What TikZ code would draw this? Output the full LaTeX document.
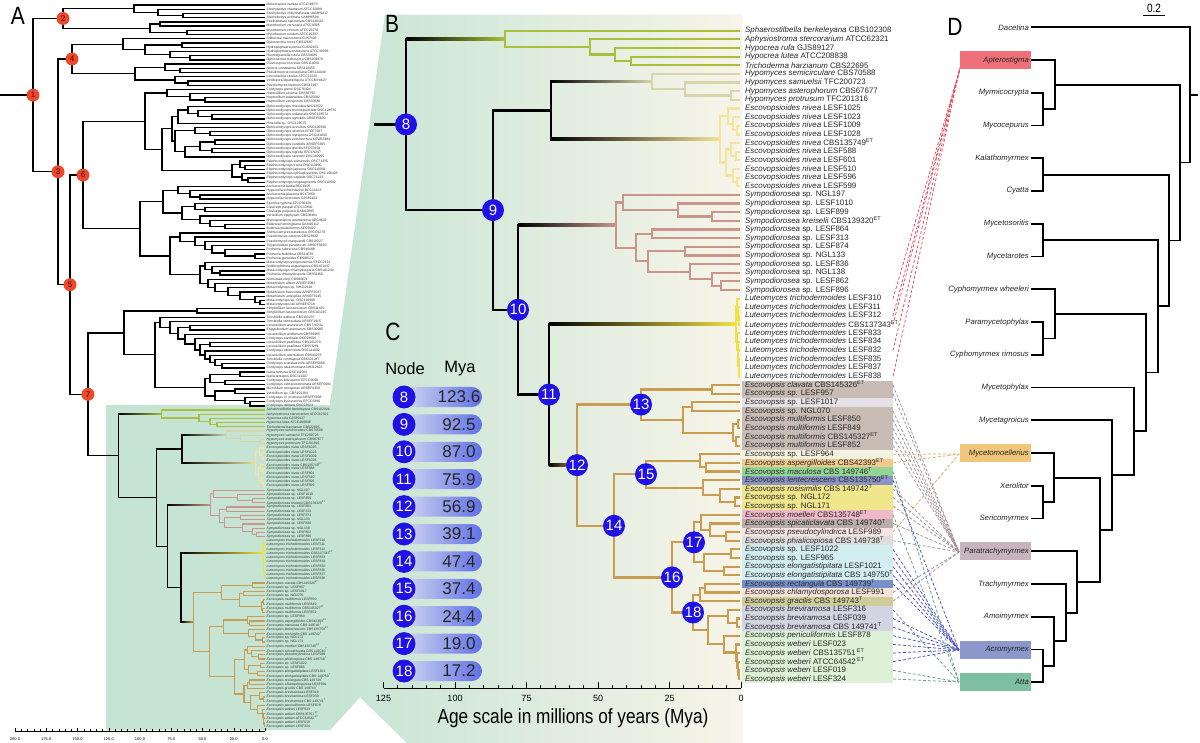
\documentclass[tikz,border=0pt]{standalone}
\usepackage{fontspec}
\setmainfont{Liberation Sans}
\newfontfamily\condfont[FakeStretch=0.84]{Liberation Sans}
\usetikzlibrary{calc}
\definecolor{Gclade}{RGB}{168,192,60}
\definecolor{Hclade}{RGB}{214,213,172}
\definecolor{Eclade}{RGB}{244,228,158}
\definecolor{Sclade}{RGB}{202,150,140}
\definecolor{Lclade}{RGB}{240,226,70}
\definecolor{Cclade}{RGB}{200,157,82}
\definecolor{nblue}{RGB}{32,18,228}
\definecolor{nred}{RGB}{236,72,44}
\definecolor{Amint}{RGB}{197,228,212}
\definecolor{Bmid}{RGB}{230,236,225}
\definecolor{Bright}{RGB}{247,244,232}
\definecolor{bTaupe}{RGB}{200,188,180}
\definecolor{bGray}{RGB}{228,226,232}
\definecolor{bCream}{RGB}{243,241,226}
\definecolor{bPeach}{RGB}{243,202,142}
\definecolor{bGreen}{RGB}{146,214,148}
\definecolor{bSlate}{RGB}{140,148,196}
\definecolor{bYellow}{RGB}{240,230,140}
\definecolor{bPink}{RGB}{240,184,200}
\definecolor{bTaupe2}{RGB}{186,174,168}
\definecolor{bRose}{RGB}{247,228,224}
\definecolor{bLgray}{RGB}{222,222,222}
\definecolor{bCyan}{RGB}{210,238,240}
\definecolor{bBlue}{RGB}{122,144,200}
\definecolor{bPeach2}{RGB}{244,226,216}
\definecolor{bKhaki}{RGB}{206,205,154}
\definecolor{bLav}{RGB}{210,212,226}
\definecolor{bLgreen}{RGB}{222,241,214}
\definecolor{Dapt}{RGB}{240,112,122}
\definecolor{Dmoe}{RGB}{242,198,122}
\definecolor{Dptr}{RGB}{200,180,188}
\definecolor{Dacr}{RGB}{140,152,204}
\definecolor{Datt}{RGB}{124,192,160}
\definecolor{pillL}{RGB}{226,230,240}
\definecolor{pillR}{RGB}{96,112,230}
\definecolor{lnRed}{RGB}{226,80,96}
\definecolor{lnOra}{RGB}{214,168,104}
\definecolor{lnMau}{RGB}{168,144,152}
\definecolor{lnBlu}{RGB}{80,80,208}
\definecolor{lnGre}{RGB}{96,160,128}
\newcommand\ET{\textsuperscript{ET}}
\newcommand\Ts{\textsuperscript{T}}
\newcommand\tipc[3]{%
  \coordinate (#1) at (#2,#3);%
  \expandafter\xdef\csname TX-#1\endcsname{#2}%
  \expandafter\xdef\csname TY-#1\endcsname{#3}}
\newcommand\ndc[4]{%
  \pgfmathsetmacro\ndtmp{(\csname TY-#3\endcsname+\csname TY-#4\endcsname)/2}%
  \expandafter\xdef\csname TX-#1\endcsname{#2}%
  \expandafter\xdef\csname TY-#1\endcsname{\ndtmp}%
  \coordinate (#1) at (#2,\ndtmp);}
\newcommand\nd[5][]{\ndc{#2}{#3}{#4}{#5}\draw[#1] (#2) |- (#4);\draw[#1] (#2) |- (#5);}
\newcommand\gst[3]{%
  \pgfmathsetmacro\gpx{\csname TX-#1\endcsname}%
  \pgfmathsetmacro\gpy{\csname TY-#1\endcsname}%
  \pgfmathsetmacro\gcx{\csname TX-#2\endcsname}%
  \pgfmathsetmacro\gcy{\csname TY-#2\endcsname}%
  \draw[bbl,line cap=rect] (\gpx,\gpy) -- (\gpx,\gcy);%
  \shade[left color=black,middle color=#3,right color=#3] (\gpx,\gcy-\ghw) rectangle (\gcx,\gcy+\ghw);}
\newcommand\lbox[3]{%
  \pgfmathsetmacro\lya{30.7+(#1-1)*8.644-4.32}%
  \pgfmathsetmacro\lyb{30.7+(#2-1)*8.644+4.32}%
  \fill[#3] (742,\lya) rectangle (893,\lyb);}
\newcommand\Btree[1]{%
\foreach \ii in {1,...,76}{\pgfmathsetmacro\yy{30.7+(\ii-1)*8.644}\tipc{#1t\ii}{740}{\yy}}%
\nd[cG]{#1g4}{631}{#1t4}{#1t5}%
\nd[cG]{#1g3}{615}{#1t3}{#1g4}%
\nd[cG]{#1g2}{590}{#1t2}{#1g3}%
\nd[cG]{#1g1}{505}{#1t1}{#1g2}%
\nd[cH]{#1h3}{731}{#1t8}{#1t9}%
\nd[cH]{#1h2}{685}{#1t7}{#1h3}%
\nd[cH]{#1h1}{652}{#1t6}{#1h2}%
\nd[cE]{#1e4}{737}{#1t12}{#1t13}%
\nd[cE]{#1e3}{733}{#1t11}{#1e4}%
\nd[cE]{#1e2}{728}{#1t10}{#1e3}%
\nd[cE]{#1e7}{736}{#1t15}{#1t16}%
\nd[cE]{#1e6}{731}{#1t14}{#1e7}%
\nd[cE]{#1e9}{737}{#1t18}{#1t19}%
\nd[cE]{#1e8}{733}{#1t17}{#1e9}%
\nd[cE]{#1e5}{726}{#1e6}{#1e8}%
\nd[cE]{#1e1}{720}{#1e2}{#1e5}%
\ndc{#1hE}{551}{#1h1}{#1e1}%
\gst{#1hE}{#1h1}{Hclade}%
\gst{#1hE}{#1e1}{Eclade}%
\nd[cS]{#1s3}{712}{#1t22}{#1t23}%
\nd[cS]{#1s2}{678}{#1t21}{#1s3}%
\nd[cS]{#1s1}{623}{#1t20}{#1s2}%
\nd[cS]{#1s5}{652}{#1t24}{#1t25}%
\nd[cS]{#1s7}{685}{#1t26}{#1t27}%
\nd[cS]{#1s10}{721}{#1t30}{#1t31}%
\nd[cS]{#1s9}{712}{#1t29}{#1s10}%
\nd[cS]{#1s8}{690}{#1t28}{#1s9}%
\nd[cS]{#1s6}{648}{#1s7}{#1s8}%
\nd[cS]{#1s4}{636}{#1s5}{#1s6}%
\nd[cS]{#1sR}{616}{#1s1}{#1s4}%
\nd[cL]{#1l3}{739}{#1t34}{#1t35}%
\nd[cL]{#1l2}{738}{#1t33}{#1l3}%
\nd[cL]{#1l1}{737}{#1t32}{#1l2}%
\nd[cL]{#1l9}{739}{#1t40}{#1t41}%
\nd[cL]{#1l8}{739}{#1t39}{#1l9}%
\nd[cL]{#1l7}{738}{#1t38}{#1l8}%
\nd[cL]{#1l6}{738}{#1t37}{#1l7}%
\nd[cL]{#1l5}{737}{#1t36}{#1l6}%
\nd[cL]{#1lR}{736}{#1l1}{#1l5}%
\nd[cC]{#1c1}{712}{#1t42}{#1t43}%
\nd[cC]{#1c3}{692}{#1t44}{#1t45}%
\nd[cC]{#1c5}{738}{#1t46}{#1t47}%
\nd[cC]{#1c6}{736}{#1t48}{#1t49}%
\nd[cC]{#1c4}{733}{#1c5}{#1c6}%
\nd[cC]{#1c2}{683}{#1c3}{#1c4}%
\nd[cC]{#1n13}{641}{#1c1}{#1c2}%
\nd[cC]{#1c8}{706}{#1t51}{#1t52}%
\nd[cC]{#1c7}{700}{#1t50}{#1c8}%
\nd[cC]{#1c11}{735}{#1t55}{#1t56}%
\nd[cC]{#1c10}{720}{#1t54}{#1c11}%
\nd[cC]{#1c9}{703}{#1t53}{#1c10}%
\nd[cC]{#1n15}{646}{#1c7}{#1c9}%
\nd[cC]{#1c14}{726}{#1t59}{#1t60}%
\nd[cC]{#1c13}{710}{#1t58}{#1c14}%
\nd[cC]{#1c12}{701}{#1t57}{#1c13}%
\nd[cC]{#1c16}{731}{#1t61}{#1t62}%
\nd[cC]{#1c17}{724}{#1t63}{#1t64}%
\nd[cC]{#1c15}{704}{#1c16}{#1c17}%
\nd[cC]{#1n17}{694}{#1c12}{#1c15}%
\nd[cC]{#1c19}{705}{#1t65}{#1t66}%
\nd[cC]{#1c18}{700}{#1c19}{#1t67}%
\nd[cC]{#1c22}{737}{#1t69}{#1t70}%
\nd[cC]{#1c21}{728}{#1t68}{#1c22}%
\nd[cC]{#1c27}{739}{#1t75}{#1t76}%
\nd[cC]{#1c26}{738}{#1t74}{#1c27}%
\nd[cC]{#1c25}{737}{#1t73}{#1c26}%
\nd[cC]{#1c24}{736}{#1t72}{#1c25}%
\nd[cC]{#1c23}{724}{#1t71}{#1c24}%
\nd[cC]{#1c20}{708}{#1c21}{#1c23}%
\nd[cC]{#1n18}{693}{#1c18}{#1c20}%
\nd[cC]{#1n16}{672}{#1n17}{#1n18}%
\nd[cC]{#1n14}{614}{#1n15}{#1n16}%
\nd[cC]{#1n12}{577}{#1n13}{#1n14}%
\ndc{#1n11}{549}{#1lR}{#1n12}%
\gst{#1n11}{#1lR}{Lclade}%
\gst{#1n11}{#1n12}{Cclade}%
\ndc{#1n10}{518}{#1sR}{#1n11}%
\gst{#1n10}{#1sR}{Sclade}%
\draw[bbl] (#1n10) |- (#1n11);%
\ndc{#1n9}{493}{#1hE}{#1n10}%
\draw[bbl] (#1n9) |- (#1hE);\draw[bbl] (#1n9) |- (#1n10);%
\ndc{#1n8}{406}{#1g1}{#1n9}%
\gst{#1n8}{#1g1}{Gclade}%
\draw[bbl] (#1n8) |- (#1n9);}
\def\Blist{{Sphaerostilbella berkeleyana}/{CBS102308},{Aphysiostroma stercorarium}/{ATCC62321},{Hypocrea rufa}/{GJS89127},{Hypocrea lutea}/{ATCC208838},{Trichoderma harzianum}/{CBS22695},{Hypomyces semicirculare}/{CBS70588},{Hypomyces samuelsii}/{TFC200723},{Hypomyces asterophorum}/{CBS67677},{Hypomyces protrusum}/{TFC201316},{Escovopsioides nivea}/{LESF1025},{Escovopsioides nivea}/{LESF1023},{Escovopsioides nivea}/{LESF1009},{Escovopsioides nivea}/{LESF1028},{Escovopsioides nivea}/{CBS135749\ET},{Escovopsioides nivea}/{LESF588},{Escovopsioides nivea}/{LESF601},{Escovopsioides nivea}/{LESF510},{Escovopsioides nivea}/{LESF596},{Escovopsioides nivea}/{LESF599},{Sympodiorosea}/{sp. NGL197},{Sympodiorosea}/{sp. LESF1010},{Sympodiorosea}/{sp. LESF899},{Sympodiorosea kreiselii}/{CBS139320\ET},{Sympodiorosea}/{sp. LESF864},{Sympodiorosea}/{sp. LESF313},{Sympodiorosea}/{sp. LESF874},{Sympodiorosea}/{sp. NGL133},{Sympodiorosea}/{sp. LESF836},{Sympodiorosea}/{sp. NGL138},{Sympodiorosea}/{sp. LESF862},{Sympodiorosea}/{sp. LESF896},{Luteomyces trichodermoides}/{LESF310},{Luteomyces trichodermoides}/{LESF311},{Luteomyces trichodermoides}/{LESF312},{Luteomyces trichodermoides}/{CBS137343\ET},{Luteomyces trichodermoides}/{LESF833},{Luteomyces trichodermoides}/{LESF834},{Luteomyces trichodermoides}/{LESF832},{Luteomyces trichodermoides}/{LESF835},{Luteomyces trichodermoides}/{LESF837},{Luteomyces trichodermoides}/{LESF838},{Escovopsis clavata}/{CBS145326\ET},{Escovopsis}/{sp. LESF957},{Escovopsis}/{sp. LESF1017},{Escovopsis}/{sp. NGL070},{Escovopsis multiformis}/{LESF850},{Escovopsis multiformis}/{LESF849},{Escovopsis multiformis}/{CBS145327\ET},{Escovopsis multiformis}/{LESF852},{Escovopsis}/{sp. LESF964},{Escovopsis aspergilloides}/{CBS42393\ET},{Escovopsis maculosa}/{CBS 149746\Ts},{Escovopsis lentecrescens}/{CBS135750\ET},{Escovopsis rosisimilis}/{CBS 149742\Ts},{Escovopsis}/{sp. NGL172},{Escovopsis}/{sp. NGL171},{Escovopsis moelleri}/{CBS135748\ET},{Escovopsis spicaticlavata}/{CBS 149740\Ts},{Escovopsis pseudocylindrica}/{LESF989},{Escovopsis phialicopiosa}/{CBS 149738\Ts},{Escovopsis}/{sp. LESF1022},{Escovopsis}/{sp. LESF965},{Escovopsis elongatistipitata}/{LESF1021},{Escovopsis elongatistipitata}/{CBS 149750\Ts},{Escovopsis rectangula}/{CBS 149739\Ts},{Escovopsis chlamydosporosa}/{LESF991},{Escovopsis gracilis}/{CBS 149743\Ts},{Escovopsis breviramosa}/{LESF316},{Escovopsis breviramosa}/{LESF039},{Escovopsis breviramosa}/{CBS 149741\Ts},{Escovopsis peniculiformis}/{LESF878},{Escovopsis weberi}/{LESF023},{Escovopsis weberi}/{CBS135751\,\ET},{Escovopsis weberi}/{ATCC64542\,\ET},{Escovopsis weberi}/{LESF019},{Escovopsis weberi}/{LESF324}}
\def\Alist{Melanospora zamiae ATCC18873,Stachybotrys chartarum ATCC32888,Stachybotrys chlorohalonata UAMH6417,Stachybotrys echinata UAMH6594,Peethambara spirostriata CBS110115,Myrothecium verrucaria ATCC9095,Myrothecium cinctum ATCC22270,Myrothecium roridum ATCC16297,Stilbocrea macrostoma GJS7326,Ophionectria cerea CBS12687,Hydropisphaera peziza GJS92101,Hydropisphaera erubescens ATCC36093,Roumegueriella rufula CBS34685,Ophionectria trichospora CBS109876,Cosmospora coccinea CBS114050,Nectria cinnabarina CBS114055,Pseudonectria rousseliana CBS114049,Leuconectria clusiae ATCC22228,Viridispora diparietispora ATCCMYA627,Paecilomyces lilacinus CBS43187,Cordyceps gunnii OSC76404,Haptocillium sinense CBS56795,Haptocillium balanoides CBS25082,Haptocillium zeosporum CBS33580,Ophiocordyceps rhizoidea NHJ12522,Ophiocordyceps brunneipunctata OSC128576,Ophiocordyceps unilateralis OSC128574,Ophiocordyceps agriotidis ARSEF5692,Hirsutella sp. OSC128575,Ophiocordyceps acicularis OSC128580,Ophiocordyceps sinensis EFCC7287,Ophiocordyceps stylophora OSC111000,Ophiocordyceps entomorrhiza KEW53484,Ophiocordyceps variabilis ARSEF5365,Ophiocordyceps gracilis EFCC3101,Ophiocordyceps nigrella EFCC9247,Ophiocordyceps ravenelii OSC110995,Elaphocordyceps subsessilis OSC71235,Elaphocordyceps fracta OSC110990,Elaphocordyceps japonica OSC110991,Elaphocordyceps ophioglossoides OSC106405,Elaphocordyceps capitata OSC71233,Elaphocordyceps longisegmentis OSC110992,Aschersonia badia BCC8105,Hypocrella schizostachyi BCC14123,Aschersonia placenta BCC7869,Hypocrella nectrioides GJS89104,Epichloe typhina ATCC56429,Claviceps paspali ATCC13892,Claviceps purpurea GAM12885,Verticillium epiphytum CBS38481,Myriogenospora atramentosa AEG9632,Balansia henningsiana GAM16112,Balansia pilulaeformis AEG9420,Shimizuomyces paradoxus EFCC6279,Paecilomyces carneus CBS23932,Paecilomyces marquandii CBS18227,Tolypocladium parasiticum ARSEF3436,Pochonia rubescens CBS46488,Pochonia bulbillosa CBS14570,Pochonia gonioides CBS89172,Metacordyceps yongmunensis EFCC2131,Rotiferophthora angustispora CBS101437,Metacordyceps chlamydosporia CBS101244,Pochonia chlamydosporia CBS50466,Nomuraea rileyi CBS80671,Metarhizium album ARSEF2082,Metacordyceps sp. NHJ12118,Metarhizium flavoviride ARSEF2037,Metarhizium anisopliae ARSEF3145,Metacordyceps sp. OSC110996,Metacordyceps taii ARSEF5714,Simplicillium lanosoniveum CBS11425,Simplicillium lanosoniveum CBS101267,Torrubiella wallacei CBS101237,Torrubiella ratticaudata ARSEF1915,Lecanicillium aranearum CBS72673a,Engyodontium aranearum CBS30985,Lecanicillium antillanum CBS35085,Cordyceps cardinalis OSC93609,Lecanicillium psalliotae CBS101270,Lecanicillium psalliotae CBS53281,Cordyceps tuberculata OSC111002,Lecanicillium attenuatum CBS40278,Torrubiella confragosa CBS101247,Cordyceps scarabaeicola ARSEF5689,Cordyceps takaomontana NHJ12623,Isaria farinosa OSC111004,Isaria tenuipes OSC111007,Cordyceps bifusispora EFCC5690,Cordyceps ochraceostromata ARSEF5691,Microhilum oncoperae ARSEF4358,Verticillium sp. CBS101284,Cordyceps cf. pruinosa ARSEF5608,Cordyceps kyusyuensis EFCC5886,Cordyceps militaris OSC93623}
\tikzset{
 bbl/.style={line width=2.6pt,black},
 cl/.style={line width=2.2pt},
 cG/.style={cl,draw=Gclade}, cH/.style={cl,draw=Hclade}, cE/.style={cl,draw=Eclade},
 cS/.style={cl,draw=Sclade}, cL/.style={cl,draw=Lclade}, cC/.style={cl,draw=Cclade},
 al/.style={line width=1.3pt,black},
 dl/.style={line width=1.8pt,black},
 bnode/.style={circle,fill=nblue,text=white,inner sep=0pt,minimum size=22pt,font=\fontsize{15}{15}\selectfont},
 anode/.style={circle,fill=nred,text=black!70!red,inner sep=0pt,minimum size=13pt,font=\fontsize{8}{8}\selectfont},
 blab/.style={anchor=west,inner sep=1pt,font=\fontsize{7.9}{8.6}\selectfont,text=black!85},
 alab/.style={anchor=west,inner sep=0.5pt,font=\fontsize{3.4}{4}\selectfont,text=black!80},
 dlab/.style={anchor=east,inner xsep=2pt,inner ysep=0pt,minimum height=18pt,font=\fontsize{7.7}{8}\selectfont\itshape,text=black!85},
 dbox/.style={dlab,text width=67pt,align=right},
 pill/.style={minimum width=90pt,minimum height=20pt,rounded corners=10pt,left color=pillL,right color=pillR,inner sep=0pt},
 panel/.style={font=\condfont\fontsize{25}{25}\selectfont,inner sep=0pt},
 dsh/.style={dash pattern=on 3pt off 2pt,line width=0.75pt},
}
\begin{document}
\begin{tikzpicture}[x=1pt,y=-1pt]
\useasboundingbox (0,0) rectangle (1200,743);
\fill[white] (0,0) rectangle (1200,743);
\def\ghw{1.3}
% ---------- background shading ----------
\fill[Amint] (106,405) -- (330,405) -- (385,15) -- (742,15) -- (742,743) -- (407,743) -- (360,697) -- (330,730) -- (106,730) -- cycle;
\begin{scope}
 \clip (330,405) -- (385,15) -- (742,15) -- (742,743) -- (407,743) -- (360,697) -- (330,730) -- cycle;
 \shade[left color=Amint,middle color=Bmid,right color=Bright] (330,10) rectangle (742,743);
\end{scope}
% ---------- panel A : green part (scaled copy of B) ----------
\begin{scope}[shift={(-58.8,395)},xscale=0.437,yscale=0.4882,bbl/.style={line width=1.4pt,black},cl/.style={line width=1.2pt}]
 \def\ghw{1.43}
 \Btree{A}
\end{scope}
% ---------- panel A : upper tree ----------
\foreach \ii in {1,...,96}{\pgfmathsetmacro\yy{5+(\ii-1)*4.22}\tipc{a\ii}{265}{\yy}}
\nd[al]{ap3}{183}{a3}{a4}
\nd[al]{ap2}{158}{a2}{ap3}
\nd[al]{ap1}{134}{a1}{ap2}
\nd[al]{ap5}{160}{a5}{a6}
\nd[al]{ap6}{187}{a7}{a8}
\nd[al]{ap4}{150}{ap5}{ap6}
\nd[al]{N2}{63}{ap1}{ap4}
\nd[al]{aq3}{182}{a10}{a11}
\nd[al]{aq5}{190}{a13}{a14}
\nd[al]{aq4}{170}{a12}{aq5}
\nd[al]{aq2}{145}{aq3}{aq4}
\nd[al]{aq1}{123}{a9}{aq2}
\nd[al]{aq9}{180}{a16}{a17}
\nd[al]{aq7}{165}{a15}{aq9}
\nd[al]{aq10}{188}{a19}{a20}
\nd[al]{aq8}{175}{a18}{aq10}
\nd[al]{aq6}{135}{aq7}{aq8}
\nd[al]{N4}{72}{aq1}{aq6}
\nd[al]{ar5}{205}{a23}{a24}
\nd[al]{ar4}{190}{a22}{ar5}
\nd[al]{ar2}{167}{a21}{ar4}
\nd[al]{ar12}{212}{a27}{a28}
\nd[al]{ar11}{198}{a26}{ar12}
\nd[al]{ar10}{188}{a25}{ar11}
\nd[al]{ar8}{178}{ar10}{a29}
\nd[al]{ar15}{210}{a31}{a32}
\nd[al]{ar13}{195}{a30}{ar15}
\nd[al]{ar17}{215}{a33}{a34}
\nd[al]{ar18}{212}{a35}{a36}
\nd[al]{ar16}{200}{ar17}{ar18}
\nd[al]{ar14}{185}{ar16}{a37}
\nd[al]{ar9}{175}{ar13}{ar14}
\nd[al]{ar6}{172}{ar8}{ar9}
\nd[al]{ar21}{245}{a39}{a40}
\nd[al]{ar19}{240}{a38}{ar21}
\nd[al]{ar22}{248}{a42}{a43}
\nd[al]{ar20}{242}{a41}{ar22}
\nd[al]{ar7}{232}{ar19}{ar20}
\nd[al]{ar3}{162}{ar6}{ar7}
\nd[al]{ar1}{145}{ar2}{ar3}
\nd[al]{as7}{200}{a46}{a47}
\nd[al]{as6}{190}{a45}{as7}
\nd[al]{as4}{178}{a44}{as6}
\nd[al]{as10}{205}{a49}{a50}
\nd[al]{as8}{195}{a48}{as10}
\nd[al]{as12}{225}{a53}{a54}
\nd[al]{as11}{210}{a52}{as12}
\nd[al]{as9}{200}{a51}{as11}
\nd[al]{as5}{182}{as8}{as9}
\nd[al]{as2}{163}{as4}{as5}
\nd[al]{as19}{255}{a60}{a61}
\nd[al]{as18}{225}{a59}{as19}
\nd[al]{as17}{212}{a58}{as18}
\nd[al]{as16}{205}{a57}{as17}
\nd[al]{as15}{195}{a56}{as16}
\nd[al]{as13}{180}{a55}{as15}
\nd[al]{as23}{220}{a64}{a65}
\nd[al]{as22}{212}{a63}{as23}
\nd[al]{as20}{205}{a62}{as22}
\nd[al]{as28}{260}{a71}{a72}
\nd[al]{as27}{255}{a70}{as28}
\nd[al]{as26}{240}{a69}{as27}
\nd[al]{as25}{228}{a68}{as26}
\nd[al]{as24}{215}{a67}{as25}
\nd[al]{as21}{208}{a66}{as24}
\nd[al]{as14}{200}{as20}{as21}
\nd[al]{as3}{170}{as13}{as14}
\nd[al]{as1}{140}{as2}{as3}
\nd[al]{N6}{83}{ar1}{as1}
\nd[al]{au2}{197}{a73}{a74}
\nd[al]{au7}{190}{a77}{a78}
\nd[al]{au11}{210}{a81}{a82}
\nd[al]{au15}{222}{a86}{a87}
\nd[al]{au14}{215}{a85}{au15}
\nd[al]{au13}{210}{a84}{au14}
\nd[al]{au12}{205}{a83}{au13}
\nd[al]{au10}{200}{au11}{au12}
\nd[al]{au9}{195}{a80}{au10}
\nd[al]{au8}{185}{a79}{au9}
\nd[al]{au6}{178}{au7}{au8}
\nd[al]{au5}{170}{a76}{au6}
\nd[al]{au4}{160}{a75}{au5}
\nd[al]{au23}{240}{a88}{a89}
\nd[al]{au24}{225}{a90}{a91}
\nd[al]{au21}{210}{au23}{au24}
\nd[al]{au25}{235}{a92}{a93}
\nd[al]{au27}{250}{a95}{a96}
\nd[al]{au26}{245}{a94}{au27}
\nd[al]{au22}{215}{au25}{au26}
\nd[al]{au20}{205}{au21}{au22}
\nd[al]{au3}{155}{au4}{au20}
\nd[al]{au1}{124}{au2}{au3}
\pgfmathsetmacro\yAe{0.4882*\csname TY-An8\endcsname+395}
\tipc{Aroot}{118.6}{\yAe}
\ndc{N7}{88}{au1}{Aroot}
\draw[al] (N7) |- (au1); \draw[al] (N7) |- (An8);
\nd[al]{N5}{70}{N6}{N7}
\nd[al]{N3}{58}{N4}{N5}
\nd[al]{N1}{33}{N2}{N3}
\pgfmathsetmacro\yNo{\csname TY-N1\endcsname}
\coordinate (A0) at (0,\yNo);
\draw[al] (A0) -- (N1);
\foreach \kk in {1,...,7}{\node[anode] (RC\kk) at (N\kk) {\kk};}
% A labels
\foreach \atx [count=\ii] in \Alist {\pgfmathsetmacro\yy{5+(\ii-1)*4.22}\node[alab] (LU\ii) at (266,\yy) {\atx};}
\foreach \spn/\stn [count=\ii] in \Blist {\pgfmathsetmacro\yy{410+(\ii-1)*4.22}\node[alab] (LA\ii) at (266,\yy) {\textit{\spn} \stn};}
% A axis
\draw[line width=0.6pt] (15,731) coordinate (aax0) -- (265,731) coordinate (aax1);
\foreach \tk in {0,5,...,200}{\pgfmathsetmacro\xx{265-\tk*1.25}\draw[line width=0.4pt] (\xx,731) -- (\xx,729);}
\foreach \tk in {0,25,...,200}{\pgfmathsetmacro\xx{265-\tk*1.25}\draw[line width=0.5pt] (\xx,731) -- (\xx,727.5);\node[font=\fontsize{4}{4}\selectfont,inner sep=0pt] (ta\tk) at (\xx,739) {\tk.0};}
% ---------- panel B ----------
\lbox{42}{43}{bTaupe}\lbox{44}{44}{bGray}\lbox{45}{49}{bTaupe}\lbox{50}{50}{bCream}
\lbox{51}{51}{bPeach}\lbox{52}{52}{bGreen}\lbox{53}{53}{bSlate}\lbox{54}{56}{bYellow}
\lbox{57}{57}{bPink}\lbox{58}{58}{bTaupe2}\lbox{59}{59}{bRose}\lbox{60}{60}{bLgray}
\lbox{61}{64}{bCyan}\lbox{65}{65}{bBlue}\lbox{66}{66}{bPeach2}\lbox{67}{67}{bKhaki}
\lbox{68}{70}{bLav}\lbox{71}{76}{bLgreen}
\Btree{B}
\pgfmathsetmacro\yBr{\csname TY-Bn8\endcsname}
\coordinate (Broot) at (374,\yBr);
\draw[bbl] (Broot) -- (Bn8);
\foreach \kk in {8,...,18}{\node[bnode] (NB\kk) at (Bn\kk) {\kk};}
\foreach \spn/\stn [count=\ii] in \Blist {\pgfmathsetmacro\yy{30.7+(\ii-1)*8.644}\node[blab] (LB\ii) at (744,\yy) {\textit{\spn} \stn};\coordinate (Bx\ii) at (893,\yy);}
% B axis
\draw[line width=0.9pt] (384,688) coordinate (bax0) -- (741,688) coordinate (bax1);
\foreach \tk in {0,5,...,125}{\pgfmathsetmacro\xx{741-\tk*2.86}\draw[line width=0.8pt] (\xx,688) -- (\xx,685);}
\foreach \tk in {0,25,...,125}{\pgfmathsetmacro\xx{741-\tk*2.86}\draw[line width=0.9pt] (\xx,688) -- (\xx,682);\node[font=\fontsize{9}{9}\selectfont,inner sep=0pt] (tb\tk) at (\xx,698) {\tk};}
\node[font=\condfont\fontsize{20.5}{20.5}\selectfont,inner sep=0pt] (axl) at (573,718) {Age scale in millions of years (Mya)};
% ---------- panel C ----------
\node[font=\fontsize{16.5}{16.5}\selectfont,inner sep=0pt] (hN) at (405,369) {Node};
\node[font=\fontsize{16.5}{16.5}\selectfont,inner sep=0pt] (hM) at (460,369) {Mya};
\foreach \kk/\vv [count=\rr from 0] in {8/123.6,9/92.5,10/87.0,11/75.9,12/56.9,13/39.1,14/47.4,15/37.4,16/24.4,17/19.0,18/17.2}{%
 \pgfmathsetmacro\yy{397+\rr*27.4}
 \node[pill] (P\kk) at (437,\yy) {};
 \node[bnode,minimum size=23pt] (C\kk) at (404,\yy) {\kk};
 \node[font=\fontsize{17}{17}\selectfont,text=black!85,inner sep=0pt] (V\kk) at (459,\yy) {\vv};}
% panel letters
\node[panel] (pA) at (18,16) {A};
\node[panel] (pB) at (392,24) {B};
\node[panel] (pC) at (393,332) {C};
\node[panel] (pD) at (955,27) {D};
% ---------- panel D ----------
\foreach \nm [count=\jj from 0] in {dDac,dApt,dMyr,dMyc,dKal,dCya,dMso,dMar,dCwh,dPar,dCri,dMph,dMag,dMoe,dXer,dSer,dPtr,dTra,dAmo,dAcr,dAtt}{\pgfmathsetmacro\yy{27.3+\jj*32.75}\tipc{\nm}{1031}{\yy}}
\coordinate (hApt) at (960,68);
\coordinate (hMoe) at (959,454);
\coordinate (hPtr) at (959,552);
\coordinate (hAcr) at (959,650);
\coordinate (hAtt) at (959,682);
\foreach \tk in {32,34,35,38,41}{\draw[dsh,lnRed] (Bx\tk) -- (hApt);}
\foreach \tk in {50,51,59}{\draw[dsh,lnOra] (Bx\tk) -- (hMoe);}
\foreach \tk in {42,43,45,46,47,48,49,54,55,56,58,60,66,67}{\draw[dsh,lnMau] (Bx\tk) -- (hPtr);}
\foreach \tk in {53,61,62,63,64,65,69,70,71,72,73,74}{\draw[dsh,lnBlu] (Bx\tk) -- (hAcr);}
\foreach \tk in {52,57,68,75,76}{\draw[dsh,lnGre] (Bx\tk) -- (hAtt);}
\node[dlab] (LdDac) at (dDac) {Dacetina};
\node[dbox,fill=Dapt] (LdApt) at (dApt) {Apterostigma};
\node[dlab] (LdMyr) at (dMyr) {Myrmicocrypta};
\node[dlab] (LdMyc) at (dMyc) {Mycocepurus};
\node[dlab] (LdKal) at (dKal) {Kalathomyrmex};
\node[dlab] (LdCya) at (dCya) {Cyatta};
\node[dlab] (LdMso) at (dMso) {Mycetosoritis};
\node[dlab] (LdMar) at (dMar) {Mycetarotes};
\node[dlab] (LdCwh) at (dCwh) {Cyphomyrmex wheeleri};
\node[dlab] (LdPar) at (dPar) {Paramycetophylax};
\node[dlab] (LdCri) at (dCri) {Cyphomyrmex rimosus};
\node[dlab] (LdMph) at (dMph) {Mycetophylax};
\node[dlab] (LdMag) at (dMag) {Mycetagroicus};
\node[dbox,fill=Dmoe] (LdMoe) at (dMoe) {Mycetomoellerius};
\node[dlab] (LdXer) at (dXer) {Xerolitor};
\node[dlab] (LdSer) at (dSer) {Sericomyrmex};
\node[dbox,fill=Dptr] (LdPtr) at (dPtr) {Paratrachymyrmex};
\node[dlab] (LdTra) at (dTra) {Trachymyrmex};
\node[dlab] (LdAmo) at (dAmo) {Amoimyrmex};
\node[dbox,fill=Dacr] (LdAcr) at (dAcr) {Acromyrmex};
\node[dbox,fill=Datt] (LdAtt) at (dAtt) {Atta};
\nd[dl]{d1}{1043}{dMyr}{dMyc}
\nd[dl]{d2}{1055}{dApt}{d1}
\nd[dl]{d3}{1043}{dKal}{dCya}
\nd[dl]{d4}{1043}{dMso}{dMar}
\nd[dl]{d5}{1043}{dPar}{dCri}
\nd[dl]{d6}{1055}{dCwh}{d5}
\nd[dl]{d11}{1043}{dXer}{dSer}
\nd[dl]{d12}{1054}{dMoe}{d11}
\nd[dl]{d14}{1043}{dAcr}{dAtt}
\nd[dl]{d15}{1054}{dAmo}{d14}
\nd[dl]{d16}{1066}{dTra}{d15}
\nd[dl]{d17}{1077}{dPtr}{d16}
\nd[dl]{d18}{1100}{d12}{d17}
\nd[dl]{d19}{1112}{dMag}{d18}
\nd[dl]{d20}{1134}{dMph}{d19}
\nd[dl]{d21}{1146}{d6}{d20}
\nd[dl]{d22}{1158}{d4}{d21}
\nd[dl]{d23}{1169}{d3}{d22}
\nd[dl]{d24}{1180}{d2}{d23}
\nd[dl]{d25}{1190}{dDac}{d24}
\draw[dl] (d25) -- ++(8,0) coordinate (dRootEnd);
\node[font=\condfont\fontsize{12}{12}\selectfont,inner sep=0pt] (sb) at (1154,8) {0.2};
\draw[line width=1pt] (1143,16) coordinate (sb0) -- (1165,16) coordinate (sb1);
\end{tikzpicture}
\end{document}
